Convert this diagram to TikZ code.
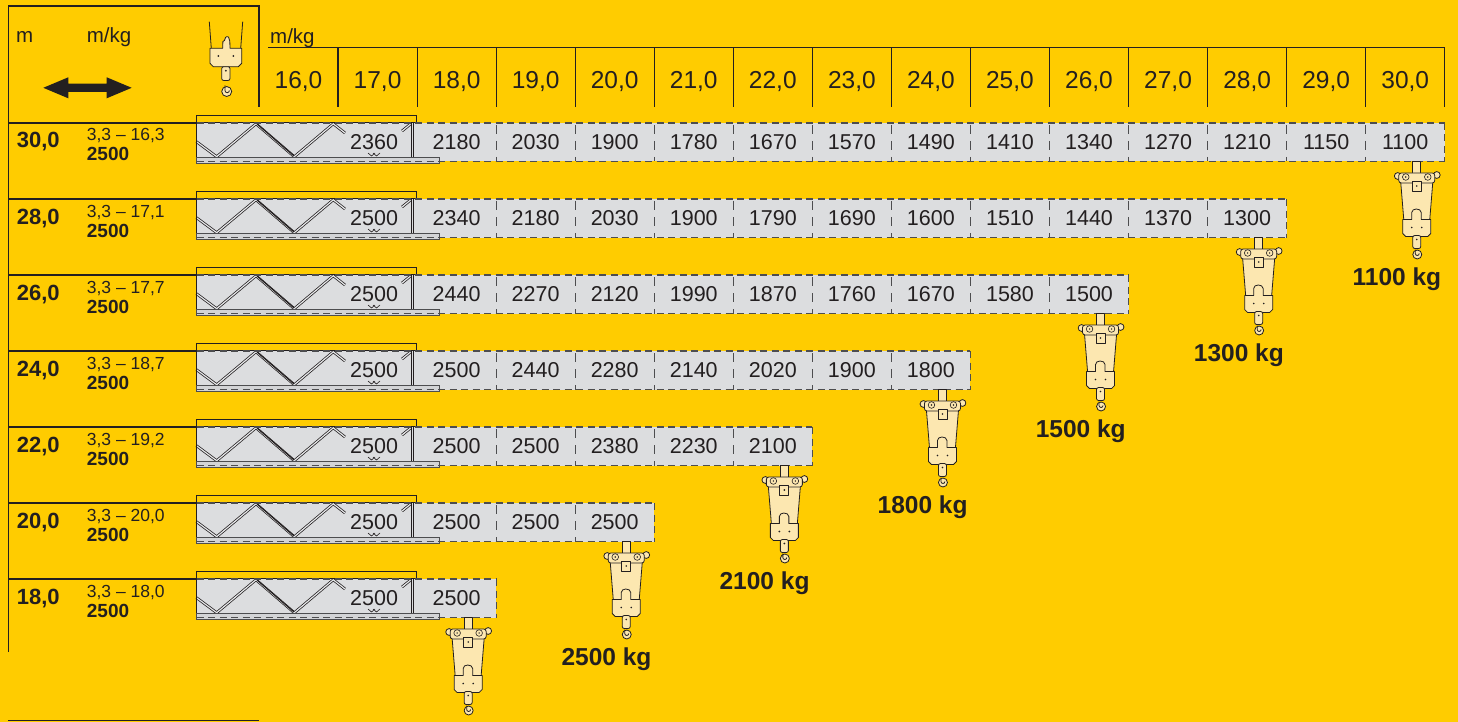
\documentclass[tikz,border=0pt]{standalone}
\usepackage{fontspec}
\setmainfont{Liberation Sans}
\definecolor{bgyellow}{HTML}{FFCC00}
\definecolor{bargrey}{HTML}{DCDDDF}
\definecolor{ink}{HTML}{231F20}
\definecolor{dashgrey}{HTML}{4D4D4F}
\definecolor{cream}{HTML}{FCE7B0}
\definecolor{plategrey}{HTML}{D3D4D6}
\tikzset{
 frame/.style={draw=ink, line width=1.2pt},
 cellnum/.style={font=\fontsize{21.5}{24}\selectfont, text=ink, anchor=base, inner sep=0pt},
 hdrnum/.style={font=\fontsize{24.5}{27}\selectfont, text=ink, anchor=base, inner sep=0pt},
 rowlab/.style={font=\bfseries\fontsize{22}{24}\selectfont, text=ink, anchor=base, inner sep=0pt},
 rngtxt/.style={font=\fontsize{17.5}{19}\selectfont, text=ink, anchor=base west, inner sep=0pt},
 captxt/.style={font=\bfseries\fontsize{19}{21}\selectfont, text=ink, anchor=base west, inner sep=0pt},
 kgtxt/.style={font=\bfseries\fontsize{24.5}{27}\selectfont, text=ink, anchor=base, inner sep=0pt},
 unittxt/.style={font=\fontsize{20.5}{23}\selectfont, text=ink, anchor=base west, inner sep=0pt},
 dashline/.style={draw=dashgrey, line width=1.3pt, dash pattern=on 7pt off 4.5pt},
 divline/.style={draw=dashgrey, line width=1.1pt, dash pattern=on 9pt off 7pt},
 truss/.style={draw=ink, line width=0.75pt, double=bargrey!70!white, double distance=1.2pt},
 hookpart/.style={draw=ink, fill=cream, line width=0.8pt, line join=round},
 bighook/.pic={
  \filldraw[hookpart] (-4,0) rectangle (4,13);
  \filldraw[hookpart] (-16,21) -- (16,21) -- (13,58) -- (-13,58) -- cycle;
  \filldraw[hookpart] (-14,58) -- (-5,58) -- (-5,51) to[out=90,in=180] (-0.5,47.5) to[out=0,in=90] (4.5,51) -- (4.5,58) -- (14,58) -- (14,72) -- (11,75) -- (-11,75) -- (-14,72) -- cycle;
  \fill[ink] (-5,66) circle (0.9pt) (5,66) circle (0.9pt);
  \filldraw[hookpart] (-19,14.5) circle (3.4pt) (20,13.5) circle (3.4pt);
  \filldraw[hookpart, rounded corners=2.5pt] (-18,11.5) rectangle (18,21.5);
  \draw[ink, line width=0.6pt] (-11,15.5) circle (3.3pt) (11,15.5) circle (3.3pt);
  \fill[ink] (-11,15.5) circle (0.8pt) (11,15.5) circle (0.8pt);
  \filldraw[hookpart] (-4.5,20) rectangle (4.5,30);
  \fill[ink] (0,24.5) circle (0.9pt);
  \filldraw[hookpart, rounded corners=2pt] (-4,74) rectangle (4,87);
  \fill[ink] (0,78) circle (0.9pt);
  \filldraw[hookpart] (0.5,93) circle (4.5pt);
  \draw[ink, line width=0.8pt] (-1.5,88) -- (-1.5,92) arc (180:360:2pt);
 }
}
\newcommand{\cranerow}[6]{%
 \pgfmathsetmacro{\yo}{123+76*#1}%
 \pgfmathtruncatemacro{\nv}{14-2*#1}%
 \pgfmathsetmacro{\xend}{259+79.05*(15-2*#1)}%
 \draw[frame] (8.3,\yo) -- (196.5,\yo);
 \fill[bargrey] (196.5,\yo) rectangle (\xend,{\yo+38.5});
 \filldraw[draw=ink, fill=bgyellow, line width=1pt] (196.5,{\yo-7.5}) rectangle (416.5,{\yo-0.5});
 \draw[truss] (196.5,{\yo+18.7}) -- (216.7,{\yo+33.7}) -- (256,{\yo+0.8}) -- (294.3,{\yo+33.7}) -- (333.3,{\yo+0.8}) -- (345,{\yo+10});
 \draw[ink, line width=1.1pt] (257,{\yo+1}) -- (294,{\yo+33});
 \draw[truss] (410,{\yo+1.5}) -- (402,{\yo+8});
 \draw[ink, line width=0.6pt] (368,{\yo+30}) -- (371.5,{\yo+33}) -- (375,{\yo+30}) (373,{\yo+30}) -- (376.5,{\yo+33}) -- (380,{\yo+30});
 \draw[ink, line width=0.7pt] (411.7,\yo) -- (411.7,{\yo+34}) (413.5,\yo) -- (413.5,{\yo+34});
 \draw[ink, line width=1pt] (196.5,{\yo-7.5}) -- (196.5,{\yo+40});
 \filldraw[draw=dashgrey, fill=plategrey, line width=0.8pt] (196.5,{\yo+34}) rectangle (439.5,{\yo+40});
 \draw[dashline] (196.5,\yo) -- (\xend,\yo);
 \draw[dashline] (196.5,{\yo+38.5}) -- (\xend,{\yo+38.5});
 \draw[dashline] (\xend,\yo) -- (\xend,{\yo+38.5});
 \ifnum\nv>2
  \foreach \kk in {3,...,\nv} {\draw[divline] ({259+79.05*\kk},{\yo+2}) -- ({259+79.05*\kk},{\yo+38.5});}
 \fi
 \foreach \v [count=\k] in {#5} {
  \ifnum\k=1
   \node[cellnum] (r#1c\k) at ({259+79.05*\k+36},{\yo+26.3}) {\v};
  \else
   \node[cellnum] (r#1c\k) at ({259+79.05*\k+39.5},{\yo+26.3}) {\v};
  \fi
 }
 \node[rowlab] (lab#1) at (38.3,{\yo+25}) {#2};
 \node[rngtxt] (rng#1) at (86.7,{\yo+18}) {#3};
 \node[captxt] (cap#1) at (86.7,{\yo+38}) {#4};
 \pic (hook#1) at ({\xend-28},{\yo+38.5}) {bighook};
 \if\relax\detokenize{#6}\relax\else
  \node[kgtxt] (kg#1) at ({\xend-47.8},{\yo+162}) {#6};
 \fi
}
\begin{document}
\begin{tikzpicture}[x=1pt,y=-1pt]
\useasboundingbox (0,0) rectangle (1458,722);
\fill[bgyellow] (0,0) rectangle (1458,722);
% left frame
\draw[frame] (8.3,652) -- (8.3,6) -- (259,6) -- (259,107);
\draw[frame] (8.3,720.5) -- (259,720.5);
\node[unittxt] (hm) at (16,42.3) {m};
\node[unittxt] (hmkg) at (86.7,42.3) {m/kg};
\fill[ink] (43.3,87.8) -- (68.3,77.3) -- (68.3,83.6) -- (106.7,83.6) -- (106.7,77.3) -- (131.7,87.8) -- (106.7,98.3) -- (106.7,92) -- (68.3,92) -- (68.3,98.3) -- cycle;
% header hook
\draw[ink, line width=0.8pt] (209.3,21.7) -- (211.3,48.3) (242.7,21.7) -- (240.7,48.3);
\filldraw[hookpart] (210,48.3) -- (222.7,48.3) -- (222.9,41.5) -- (224.5,40.5) -- (225.5,37.5) to[out=60,in=150] (228.5,37) -- (229.8,41) -- (230,48.3) -- (241.7,48.3) -- (241.7,63.3) -- (238.3,66.7) -- (213.3,66.7) -- (210,63.3) -- cycle;
\fill[ink] (218.3,56) circle (1pt) (233.3,56) circle (1pt);
\filldraw[hookpart, rounded corners=2pt] (221.7,66.7) rectangle (230,80.5);
\fill[ink] (225.8,70.7) circle (1pt);
\filldraw[hookpart] (226.7,91.5) circle (5pt);
\draw[ink, line width=0.8pt] (225,85.5) -- (225,90.5) arc (180:360:2.2pt);
% top header
\node[unittxt] (tmkg) at (270,43.3) {m/kg};
\draw[frame] (268.3,47.7) -- (1444.75,47.7);
\foreach \k in {1,...,15} {\draw[frame] ({259+79.05*\k},47.7) -- ({259+79.05*\k},107);}
\foreach \k in {1,...,15} {
 \pgfmathtruncatemacro{\hv}{15+\k}
 \node[hdrnum] (h\k) at ({259+79.05*(\k-1)+39.5},88.3) {\hv,0};
}
% rows
\cranerow{0}{30,0}{3,3 -- 16,3}{2500}{2360,2180,2030,1900,1780,1670,1570,1490,1410,1340,1270,1210,1150,1100}{1100 kg}
\cranerow{1}{28,0}{3,3 -- 17,1}{2500}{2500,2340,2180,2030,1900,1790,1690,1600,1510,1440,1370,1300}{1300 kg}
\cranerow{2}{26,0}{3,3 -- 17,7}{2500}{2500,2440,2270,2120,1990,1870,1760,1670,1580,1500}{1500 kg}
\cranerow{3}{24,0}{3,3 -- 18,7}{2500}{2500,2500,2440,2280,2140,2020,1900,1800}{1800 kg}
\cranerow{4}{22,0}{3,3 -- 19,2}{2500}{2500,2500,2500,2380,2230,2100}{2100 kg}
\cranerow{5}{20,0}{3,3 -- 20,0}{2500}{2500,2500,2500,2500}{2500 kg}
\cranerow{6}{18,0}{3,3 -- 18,0}{2500}{2500,2500}{}
\end{tikzpicture}
\end{document}
